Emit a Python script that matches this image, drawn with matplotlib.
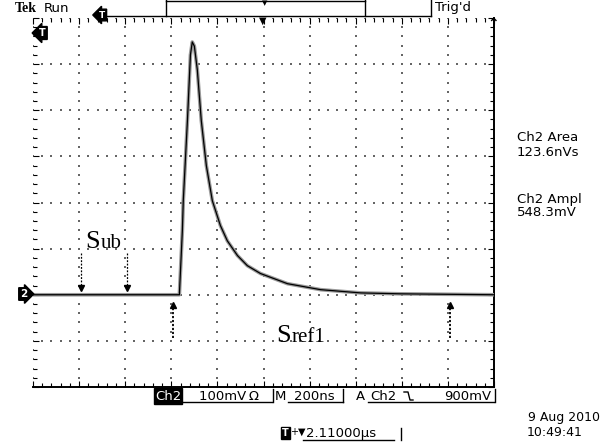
import matplotlib
matplotlib.use("Agg")
import matplotlib.pyplot as plt
from matplotlib.lines import Line2D
from matplotlib.ticker import MultipleLocator
import numpy as np

W, H = 609, 444

# Ch2 trace: time from left edge of screen (ns) and voltage above ground (mV)
time_ns = [0, 635, 648, 652, 670, 683, 691, 700, 713, 730, 752, 778, 813,
           843, 887, 930, 987, 1104, 1248, 1422, 1596, 2000]
volt_mv = [0, 0, 139, 204, 378, 520, 548, 539, 487, 378, 280, 204, 150,
           117, 85, 63, 46, 24, 11, 4, 2, 0]

# dotted marker arrows (time ns, tail mV, tip mV)
sub_arrows_t = [209, 409]
sub_arrow_tail, sub_arrow_tip = 91, 9
ref_arrows_t = [609, 1809]
ref_arrow_tail, ref_arrow_tip = -93, -17

ns_per_div = 200
mv_per_div = 100
x_divs, y_divs = 10, 8
y_bottom = -200

readouts = [("Ch2 Area", 137), ("123.6nVs", 152), ("Ch2 Ampl", 199), ("548.3mV", 212)]

FONT = "DejaVu Sans"


def fx(x):
    return x / W


def fy(y):
    return 1 - y / H


def line(fig, xs, ys, lw=1.0):
    fig.add_artist(Line2D([fx(x) for x in xs], [fy(y) for y in ys], color="k", lw=lw))


def txt(fig, x, y, s, size=9.5, **kw):
    kw.setdefault("ha", "left")
    kw.setdefault("va", "center")
    kw.setdefault("family", FONT)
    fig.text(fx(x), fy(y), s, fontsize=size, **kw)


fig = plt.figure(figsize=(W / 100, H / 100), dpi=100)
ax = fig.add_axes([fx(33), fy(387), (494 - 33) / W, (387 - 18) / H])

x_max = ns_per_div * x_divs
y_top = y_bottom + mv_per_div * y_divs
ax.set_xlim(0, x_max)
ax.set_ylim(y_bottom, y_top)

# graticule made of dots at every fifth of a division
maj_x = np.arange(0, x_max + 1, ns_per_div)
maj_y = np.arange(y_bottom, y_top + 1, mv_per_div)
min_x = np.arange(0, x_max + 1, ns_per_div / 5)
min_y = np.arange(y_bottom, y_top + 1, mv_per_div / 5)
gx, gy = np.meshgrid(maj_x, min_y)
ax.scatter(gx.ravel(), gy.ravel(), s=1.0, marker="s", color="#666", lw=0, zorder=1)
gx, gy = np.meshgrid(min_x, maj_y)
ax.scatter(gx.ravel(), gy.ravel(), s=1.0, marker="s", color="#666", lw=0, zorder=1)

ax.xaxis.set_major_locator(MultipleLocator(ns_per_div))
ax.xaxis.set_minor_locator(MultipleLocator(ns_per_div / 5))
ax.yaxis.set_major_locator(MultipleLocator(mv_per_div))
ax.yaxis.set_minor_locator(MultipleLocator(mv_per_div / 5))
ax.tick_params(which="both", direction="in", top=True, right=True,
               labelbottom=False, labelleft=False, width=0.8, color="k")
ax.tick_params(which="major", length=4)
ax.tick_params(which="minor", length=3)
for side in ["top", "left"]:
    ax.spines[side].set_visible(False)
for side in ["bottom", "right"]:
    ax.spines[side].set_linewidth(1.4)

# trace
ax.plot(time_ns, volt_mv, color="#9a9a9a", lw=2.6, zorder=3)
ax.plot(time_ns, volt_mv, color="k", lw=0.9, zorder=4)

# marker arrows
for t in sub_arrows_t:
    ax.plot([t, t], [sub_arrow_tail, sub_arrow_tip + 8], color="k", lw=0.9, ls=(0, (1.5, 1.2)))
    ax.plot(t, sub_arrow_tip + 6, marker="v", ms=5, color="k")
for t in ref_arrows_t:
    ax.plot([t, t], [ref_arrow_tail, ref_arrow_tip - 8], color="k", lw=1.3, ls=(0, (1.2, 1.0)))
    ax.plot(t, ref_arrow_tip - 6, marker="^", ms=5, color="k")

ax.set_facecolor("white")

# hand-written labels
fig.text(fx(85), fy(248), "S", fontsize=19, family="Liberation Serif", va="baseline")
fig.text(fx(101), fy(248), "ub", fontsize=15, family="Liberation Serif", va="baseline")
fig.text(fx(276), fy(342), "S", fontsize=19, family="Liberation Serif", va="baseline")
fig.text(fx(292), fy(342), "ref1", fontsize=15, family="Liberation Serif", va="baseline")

# top status line
txt(fig, 15, 8, "Tek", size=10, weight="bold", family="Liberation Serif")
txt(fig, 44, 8, "Run")
txt(fig, 99, 15, "T", size=6.5, color="white", weight="bold",
    bbox=dict(boxstyle="larrow,pad=0.15", fc="k", ec="k"))
line(fig, [104, 431], [16, 16])
line(fig, [166, 166], [0, 16])
line(fig, [365, 365], [0, 16])
line(fig, [166, 365], [1, 1])
line(fig, [431, 431], [0, 16])
txt(fig, 265, 3, "\u25bc", size=5, ha="center")
txt(fig, 435, 8, "Trig'd")

# screen markers
txt(fig, 263, 21, "\u25bc", size=7, ha="center")
txt(fig, 493, 24, "\u2191", size=10, ha="center", weight="bold")
txt(fig, 39, 33, "T", size=7, color="white", weight="bold",
    bbox=dict(boxstyle="larrow,pad=0.15", fc="k", ec="k"))
txt(fig, 20, 294, "2", size=7.5, color="white", weight="bold",
    bbox=dict(boxstyle="rarrow,pad=0.12", fc="k", ec="k"))

# measurement readouts
for s, y in readouts:
    txt(fig, 517, y, s)

# bottom settings line
row = 396
txt(fig, 155, row, "Ch2", color="white",
    bbox=dict(boxstyle="square,pad=0.08", fc="k", ec="k"))
txt(fig, 199, row, "100mV\u2009\u03a9")
line(fig, [183, 272], [row + 6, row + 6])
line(fig, [273, 273], [row - 7, row + 6])
txt(fig, 275, row, "M")
txt(fig, 294, row, "200ns")
line(fig, [288, 343], [row + 6, row + 6])
line(fig, [343, 343], [row - 7, row + 6])
txt(fig, 356, row, "A")
txt(fig, 370, row, "Ch2")
line(fig, [404, 408, 410, 413], [row - 4, row - 4, row + 4, row + 4])
txt(fig, 444, row, "900mV")
line(fig, [368, 494], [row + 6, row + 6])
line(fig, [495, 495], [row - 7, row + 6])

txt(fig, 282, 433, "T", size=7, color="white", weight="bold",
    bbox=dict(boxstyle="square,pad=0.1", fc="k", ec="k"))
txt(fig, 290, 432, "+\u25bc", size=7)
txt(fig, 306, 433, "2.11000\u00b5s")
line(fig, [303, 394], [440, 440])
line(fig, [401, 401], [428, 440])

txt(fig, 528, 417, "9 Aug 2010", size=9)
txt(fig, 527, 432, "10:49:41", size=9)

fig.savefig("out.png", dpi=100, facecolor="white")
